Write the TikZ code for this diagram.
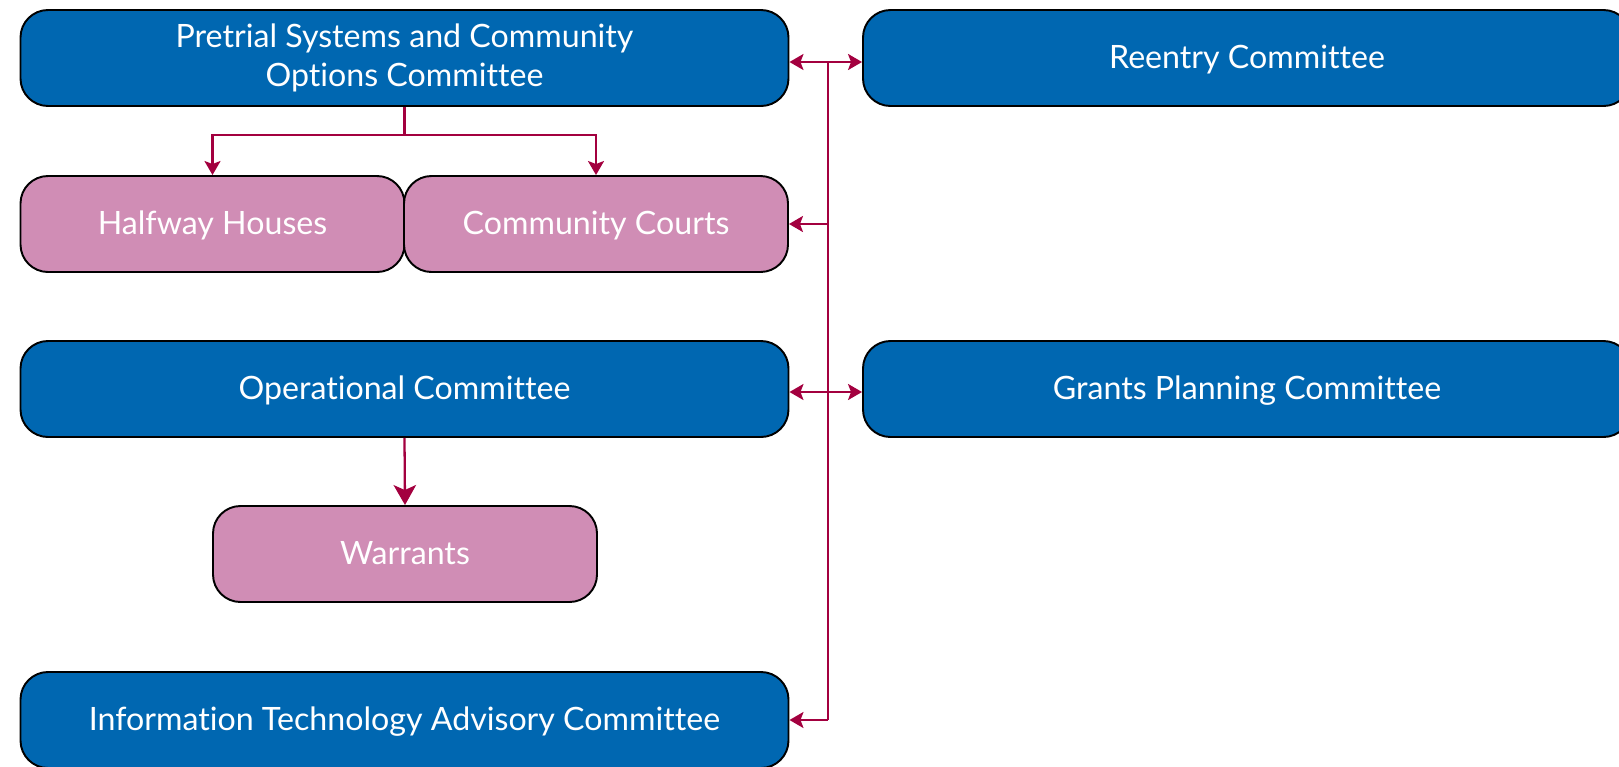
\documentclass[tikz,border=0pt]{standalone}
\usepackage{fontspec}
\setmainfont{Lato}[Ligatures=NoCommon]
\usepackage{xcolor}
\usepackage{tikz}
\usetikzlibrary{arrows.meta}

\definecolor{boardblue}{HTML}{0067B1}
\definecolor{subpink}{HTML}{D08DB5}
\definecolor{linkred}{HTML}{A3003F}

\begin{document}
\begin{tikzpicture}[font=\fontsize{18.3}{22}\selectfont,
	box/.style={draw=black,line width=1.1pt,fill=boardblue,text=white,rounded corners=0.55cm,
		minimum width=15.36cm,minimum height=1.92cm,align=center,inner sep=0pt},
	committee/.style={box,text height=0.4cm,text depth=0pt},
	subgroup/.style={committee,fill=subpink,minimum width=7.68cm},
	link/.style={draw=linkred,line width=1.3pt,-{Stealth[length=0.28cm,width=0.32cm,inset=0.06cm]}},
	twolink/.style={link,{Stealth[length=0.28cm,width=0.32cm,inset=0.06cm]}-{Stealth[length=0.28cm,width=0.32cm,inset=0.06cm]}}]
	\clip (0,0) rectangle (32.38,-15.32);
	\node[box] (pretrial) at (8.09,-1.16) {Pretrial Systems and Community\\ Options Committee};
	\node[committee] (reentry) at (24.94,-1.16) {Reentry Committee};
	\node[subgroup] (halfway) at (4.25,-4.48) {Halfway Houses};
	\node[subgroup] (courts) at (11.92,-4.48) {Community Courts};
	\node[committee] (operational) at (8.09,-7.78) {Operational Committee};
	\node[committee] (grants) at (24.94,-7.78) {Grants Planning Committee};
	\node[subgroup] (warrants) at (8.1,-11.08) {Warrants};
	\node[committee] (infotech) at (8.09,-14.40) {Information Technology Advisory Committee};
	% spine between the two columns
	\coordinate (top) at (16.56,-1.24);
	\coordinate (bottom) at (16.56,-14.40);
	\draw [linkred,line width=1.3pt] (top) -- (bottom);
	\draw [twolink] (pretrial.east |- top) -- (reentry.west |- top);
	\draw [twolink] ([yshift=-0.06cm]operational.east) -- ([yshift=-0.06cm]grants.west);
	\foreach \q in {courts, infotech} {
		\draw [link] (\q.east -| top) -- (\q.east);
	}
	\coordinate (fork) at (8.09,-2.7);
	\draw [linkred,line width=1.3pt] (pretrial.south) -- (fork);
	\draw [link] (fork) -| (halfway.north);
	\draw [link] (fork) -| (courts.north);
	\draw [link,-{Stealth[length=0.4cm,width=0.45cm,inset=0.1cm]}] (operational.south) -- (warrants.north);
\end{tikzpicture}
\end{document}
